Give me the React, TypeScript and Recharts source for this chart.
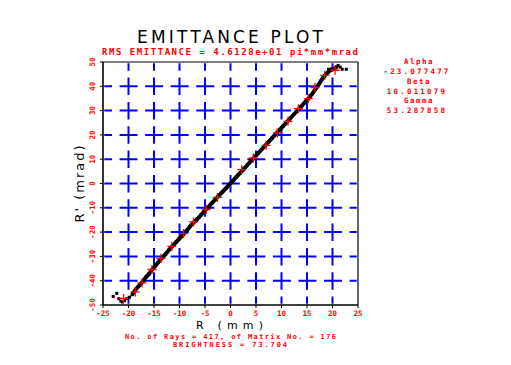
import React from 'react';
import { ScatterChart, Scatter, XAxis, YAxis, CartesianGrid, ReferenceLine } from 'recharts';

// tick values
const xTicks = [-25, -20, -15, -10, -5, 0, 5, 10, 15, 20, 25];
const yTicks = [-50, -40, -30, -20, -10, 0, 10, 20, 30, 40, 50];

// twiss parameters shown on the right
const twissLabels = ['Alpha', 'Beta', 'Gamma'];
const twissValues = ['-23.077477', '10.011079', '53.287858'];

// main band of particles (R mm, R' mrad)
const bandR = [-19.3, -18.6, -18.0, -17.3, -16.6, -16.0, -15.4, -14.7, -14.0, -13.4, -12.7, -12.0, -11.4, -10.7, -10.0, -9.3, -8.6, -7.9, -7.2, -6.5, -5.8, -5.1, -4.4, -3.7, -3.0, -2.3, -1.6, -0.9, -0.2, 0.5, 1.2, 1.9, 2.6, 3.3, 4.0, 4.7, 5.4, 6.1, 6.8, 7.5, 8.2, 8.9, 9.6, 10.3, 11.0, 11.7, 12.4, 13.1, 13.8, 14.5, 15.2, 15.9, 16.6, 17.2, 17.8, 18.4, 19.0, 19.6, 20.2, 20.8];
const bandRp = [-45.8, -43.6, -42.2, -40.6, -38.6, -37.2, -35.5, -33.8, -32.0, -30.6, -29.0, -27.2, -25.8, -24.2, -22.6, -21.0, -19.4, -17.6, -16.0, -14.6, -13.0, -11.4, -9.8, -8.2, -6.6, -5.0, -3.5, -2.0, -0.4, 1.2, 2.8, 4.4, 6.0, 7.6, 9.2, 10.8, 12.4, 14.0, 15.6, 17.2, 18.8, 20.4, 22.0, 23.6, 25.2, 26.8, 28.4, 30.0, 31.6, 33.2, 34.8, 36.6, 38.6, 40.4, 42.4, 44.2, 45.6, 46.6, 47.0, 48.0];

// stray particles at the two ends
const tailR = [-23.0, -22.3, -21.9, -21.5, -21.2, -20.8, -20.3, -19.8, 19.2, 19.8, 21.1, 21.5, 21.9, 22.7];
const tailRp = [-46.5, -45.2, -47.4, -48.4, -48.8, -48.2, -47.4, -46.8, 47.0, 47.2, 48.6, 47.9, 47.0, 47.0];

// marked (red) particles
const markR = [-20.96, -18.67, -17.36, -15.4, -13.64, -11.5, -9.2, -7.26, -4.77, -2.56, 2.2, 4.48, 6.97, 9.18, 11.27, 13.3, 15.25, 16.56, 18.5, 20.5];
const markRp = [-47.3, -44.6, -40.9, -35.4, -30.8, -25.9, -20.6, -15.8, -10.7, -5.75, 5.75, 10.5, 15.7, 20.8, 25.6, 30.8, 34.9, 39.5, 44.5, 46.6];

const band = bandR.map((r, i) => ({ r, rp: bandRp[i] }));
const tail = tailR.map((r, i) => ({ r, rp: tailRp[i] }));
const marks = markR.map((r, i) => ({ r, rp: markRp[i] }));

const RED = '#ff0000';
const BLUE = '#0000ff';
const PIX = '"DejaVu Sans Mono", monospace';

const XTick = (props: any) => {
  const { x, y, payload } = props;
  return (
    <text x={x} y={y + 6} textAnchor="middle" fill={RED} fontFamily={PIX} fontWeight="bold" fontSize={7.5}>
      {payload.value}
    </text>
  );
};

const YTick = (props: any) => {
  const { x, y, payload } = props;
  const bx = x - 3;
  return (
    <text
      x={bx}
      y={y}
      transform={`rotate(-90 ${bx} ${y})`}
      textAnchor="middle"
      fill={RED}
      fontFamily={PIX}
      fontWeight="bold"
      fontSize={7.5}
    >
      {payload.value}
    </text>
  );
};

const Plus = (props: any) => {
  const { cx, cy } = props;
  return <path d={`M${cx - 4.5},${cy}h9M${cx},${cy - 4.5}v9`} stroke={RED} strokeWidth={1.3} fill="none" />;
};

const Dot = (props: any) => {
  const { cx, cy } = props;
  return <rect x={cx - 1.5} y={cy - 1.5} width={3} height={3} fill="#000" />;
};

const SmallDot = (props: any) => {
  const { cx, cy } = props;
  return <rect x={cx - 1.5} y={cy - 1.5} width={3} height={3} fill="#000" />;
};

export default function App() {
  return (
    <div style={{ position: 'absolute', left: 0, top: 0, width: 511, height: 365, background: '#fff' }}>
      <ScatterChart width={511} height={365} margin={{ top: 62, right: 153, bottom: 30, left: 73 }}>
        <CartesianGrid
          horizontal
          vertical={false}
          stroke={BLUE}
          strokeWidth={2}
          strokeDasharray="18 7.56"
          strokeDashoffset={9}
        />
        <CartesianGrid
          horizontal={false}
          vertical
          stroke={BLUE}
          strokeWidth={2}
          strokeDasharray="17.5 6.83"
          strokeDashoffset={8.75}
        />
        <XAxis
          type="number"
          dataKey="r"
          domain={[-25, 25]}
          ticks={xTicks}
          height={30}
          tickSize={3}
          tickMargin={2}
          stroke="#000"
          tick={<XTick />}
          interval={0}
          allowDataOverflow
        />
        <YAxis
          type="number"
          dataKey="rp"
          domain={[-50, 50]}
          ticks={yTicks}
          width={30}
          tickSize={3}
          tickMargin={2}
          stroke="#000"
          tick={<YTick />}
          interval={0}
          allowDataOverflow
        />
        {/* plot frame: mask the edge grid lines, then draw a thin black border */}
        <ReferenceLine y={50} stroke="#fff" strokeWidth={2.5} />
        <ReferenceLine y={-50} stroke="#fff" strokeWidth={2.5} />
        <ReferenceLine x={-25} stroke="#fff" strokeWidth={2.5} />
        <ReferenceLine x={25} stroke="#fff" strokeWidth={2.5} />
        <ReferenceLine y={50} stroke="#000" strokeWidth={1.2} />
        <ReferenceLine y={-50} stroke="#000" strokeWidth={1.2} />
        <ReferenceLine x={-25} stroke="#000" strokeWidth={1.2} />
        <ReferenceLine x={25} stroke="#000" strokeWidth={1.2} />
        <Scatter
          data={band}
          line={{ stroke: '#000', strokeWidth: 4 }}
          shape={<Dot />}
          isAnimationActive={false}
        />
        <Scatter data={tail} shape={<SmallDot />} isAnimationActive={false} />
        <Scatter data={marks} shape={<Plus />} isAnimationActive={false} />

        {/* title block */}
        <text x={137} y={43} textLength={186} lengthAdjust="spacing" fontFamily="DejaVu Sans" fontSize={17} fill="#000">
          EMITTANCE PLOT
        </text>
        <text x={102} y={55} textLength={256} lengthAdjust="spacing" fontFamily={PIX} fontWeight="bold" fontSize={9} fill={RED}>
          RMS EMITTANCE =  4.6128e+01 pi*mm*mrad
        </text>

        {/* twiss block */}
        {twissLabels.map((label, i) => (
          <g key={label}>
            <text x={419} y={64 + i * 19.6} textAnchor="middle" fontFamily={PIX} fontWeight="bold" fontSize={7.5} fill={RED} letterSpacing={1.5}>
              {label}
            </text>
            <text x={417} y={74 + i * 19.6} textAnchor="middle" fontFamily={PIX} fontWeight="bold" fontSize={7.5} fill={RED} letterSpacing={2.2}>
              {twissValues[i]}
            </text>
          </g>
        ))}

        {/* axis titles */}
        <text x={196} y={329} textLength={67} lengthAdjust="spacing" fontFamily="DejaVu Sans" fontSize={11} fill="#000">
          R   (mm)
        </text>
        <text
          x={84}
          y={183}
          transform="rotate(-90 84 183)"
          textAnchor="middle"
          fontFamily="DejaVu Sans"
          fontSize={13}
          letterSpacing={2}
          fill="#000"
        >
          R'  (mrad)
        </text>

        {/* footer */}
        <text x={125} y={339} textLength={211} lengthAdjust="spacing" fontFamily={PIX} fontWeight="bold" fontSize={7} fill={RED}>
          No. of Rays =  417, of Matrix No. = 176
        </text>
        <text x={173} y={346.5} textLength={114} lengthAdjust="spacing" fontFamily={PIX} fontWeight="bold" fontSize={7} fill={RED}>
          BRIGHTNESS =   73.704
        </text>
      </ScatterChart>
    </div>
  );
}
